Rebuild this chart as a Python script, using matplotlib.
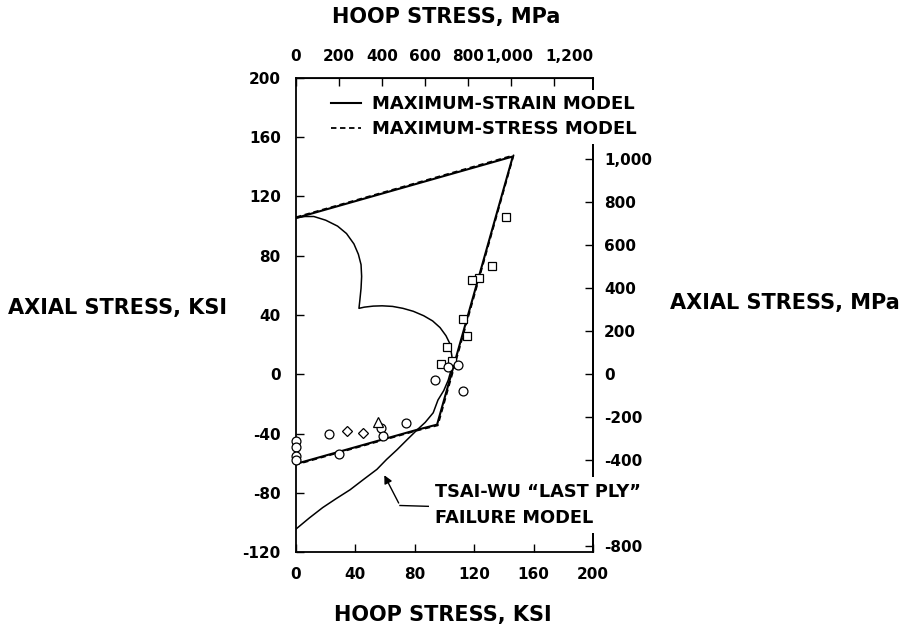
import matplotlib
matplotlib.use("Agg")
import matplotlib.pyplot as plt
import matplotlib.transforms as mtransforms
from matplotlib.ticker import FixedLocator

KSI2MPA = 6.895

# failure envelopes (hoop ksi, axial ksi)
strain_x = [0, 146, 95, 81.5, 0]
strain_y = [105.5, 147, -34, -37.5, -60.5]
stress_x = [0, 146.5, 95.5, 81.5, 0]
stress_y = [106, 147.8, -34.5, -38, -61]

tsai_x = [0, 6, 12, 20, 28, 34, 39, 42, 43.8, 44.2, 43.8, 43, 42.4,
          46, 52, 58, 65, 72, 79, 86, 92, 97, 101, 103.7, 105, 104.5,
          102.5, 99.5, 95.6, 92.4, 87, 81.5, 75, 68, 61, 54.5, 45.5,
          36.4, 27, 18, 9, 0]
tsai_y = [105.5, 106.5, 106.5, 104, 100, 95, 88, 81, 74, 66, 58, 50, 44.5,
          45.3, 46, 46.2, 45.8, 44.5, 42.5, 39.5, 36, 31.5, 26, 20.5, 12, 3,
          -4, -11, -17.4, -26, -32.5, -37.6, -44, -51, -57.5, -64.2, -71,
          -78, -84, -90, -97, -104.5]

# test data
sq_x = [141.2, 132.2, 123.2, 118.3, 112.2, 115.4, 101.5, 97.6, 105.3]
sq_y = [106, 73.2, 65.3, 63.8, 37.4, 25.5, 18.3, 7.2, 9]
ci_x = [93.6, 112.7, 109.3, 102.6, 22.4, 29.2, 57.2, 58.4, 73.9, 0, 0, 0, 0]
ci_y = [-4, -11.4, 6.5, 4.9, -40.3, -53.7, -36, -42, -32.7, -45, -49, -55, -58]
dm_x = [34.5, 45.3]
dm_y = [-38, -39.8]
tr_x = [55.4]
tr_y = [-32]

ksi_xticks = [0, 40, 80, 120, 160, 200]
ksi_yticks = [-120, -80, -40, 0, 40, 80, 120, 160, 200]
mpa_xticks = [0, 200, 400, 600, 800, 1000, 1200]
mpa_xlabels = ["0", "200", "400", "600", "800", "1,000", "1,200"]
mpa_yticks = [-800, -600, -400, -200, 0, 200, 400, 600, 800, 1000]
mpa_ylabels = ["-800", "", "-400", "-200", "0", "200", "400", "600", "800", "1,000"]

plt.rcParams["font.family"] = "DejaVu Sans"
plt.rcParams["font.weight"] = "bold"
plt.rcParams["axes.unicode_minus"] = False

fig = plt.figure(figsize=(9.02, 6.31), dpi=100)
ax = fig.add_axes([296 / 902, 1 - 552 / 631, 297 / 902, 474 / 631])

ax.plot(strain_x, strain_y, color="black", lw=1.5, label="MAXIMUM-STRAIN MODEL")
ax.plot(stress_x, stress_y, color="black", lw=1.3, ls=(0, (3, 2)),
        label="MAXIMUM-STRESS MODEL")
ax.plot(tsai_x, tsai_y, color="black", lw=1.1)

mk = dict(ls="none", mfc="white", mec="black", mew=0.9, clip_on=False, zorder=4)
ax.plot(sq_x, sq_y, marker="s", ms=6, **mk)
ax.plot(ci_x, ci_y, marker="o", ms=6.4, **mk)
ax.plot(dm_x, dm_y, marker="D", ms=5.3, **mk)
ax.plot(tr_x, tr_y, marker="^", ms=6.5, **mk)

ax.set_xlim(0, 200)
ax.set_ylim(-120, 200)
ax.set_xticks(ksi_xticks)
ax.set_yticks(ksi_yticks)
ax.tick_params(direction="in", length=6, width=1, labelsize=11, pad=11)
ax.yaxis.set_minor_locator(FixedLocator([0]))
ax.tick_params(axis="y", which="minor", direction="in", length=14, width=1)
ax.xaxis.set_minor_locator(FixedLocator([]))
for s in ax.spines.values():
    s.set_linewidth(1.3)

secx = ax.secondary_xaxis("top", functions=(lambda k: k * KSI2MPA, lambda m: m / KSI2MPA))
secx.set_xticks(mpa_xticks)
secx.set_xticklabels(mpa_xlabels)
secx.tick_params(direction="in", length=6, width=1, labelsize=11, pad=10)
secx.xaxis.set_minor_locator(FixedLocator([]))
# the original prints the last two MPa labels squeezed to the right
shifts = {"1,000": -2, "1,200": 15}
for lab in secx.get_xticklabels():
    dx = shifts.get(lab.get_text(), 0)
    if dx:
        lab.set_transform(lab.get_transform() + mtransforms.ScaledTranslation(dx / 100, 0, fig.dpi_scale_trans))

secy = ax.secondary_yaxis("right", functions=(lambda k: k * KSI2MPA, lambda m: m / KSI2MPA))
secy.set_yticks(mpa_yticks)
secy.set_yticklabels(mpa_ylabels)
secy.tick_params(direction="in", length=6, width=1, labelsize=11, pad=8)
secy.yaxis.set_minor_locator(FixedLocator([0]))
secy.tick_params(which="minor", direction="in", length=14, width=1)
for s in secy.spines.values():
    s.set_linewidth(1.3)

leg = ax.legend(loc="upper left", bbox_to_anchor=(0.098, 0.975), prop=dict(size=13, weight="bold"),
                frameon=True, facecolor="white", edgecolor="none", framealpha=1, fancybox=False,
                handlelength=1.7, handletextpad=0.6, labelspacing=0.38, borderpad=0.3, borderaxespad=0)
leg.set_zorder(10)

ax.text(93.6, -88.3, "TSAI-WU \u201cLAST PLY\u201d\nFAILURE MODEL", ha="left", va="center",
        fontsize=12.8, fontweight="bold", linespacing=1.6, zorder=10, clip_on=False,
        bbox=dict(facecolor="white", edgecolor="none", pad=4))
ax.annotate("", xy=(58.6, -66.5), xytext=(70, -88.6),
            arrowprops=dict(arrowstyle="-|>", color="black", lw=1.0, mutation_scale=12))
ax.plot([70, 90], [-88.6, -89.2], color="black", lw=1.0)

fig.text(446 / 902, 1 - 17 / 631, "HOOP STRESS, MPa", ha="center", va="center", fontsize=15, fontweight="bold")
fig.text(443 / 902, 1 - 615 / 631, "HOOP STRESS, KSI", ha="center", va="center", fontsize=15, fontweight="bold")
fig.text(118 / 902, 1 - 308 / 631, "AXIAL STRESS, KSI", ha="center", va="center", fontsize=15, fontweight="bold")
fig.text(785 / 902, 1 - 303 / 631, "AXIAL STRESS, MPa", ha="center", va="center", fontsize=15, fontweight="bold")

fig.savefig("out.png", dpi=100)
